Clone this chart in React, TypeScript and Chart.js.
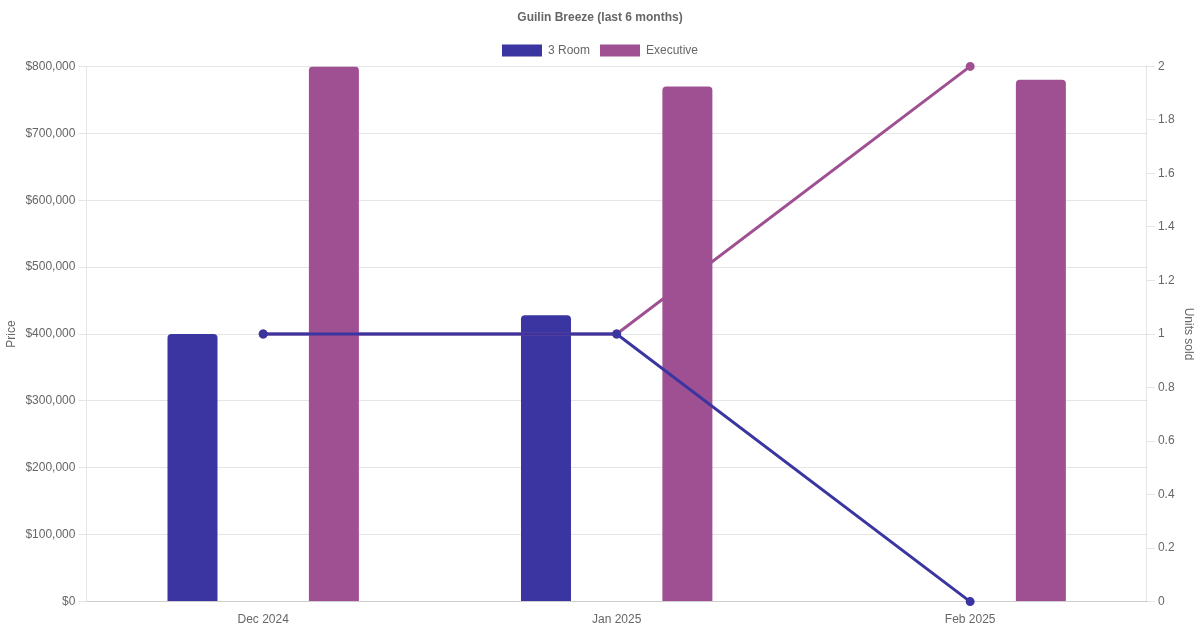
import React, { useEffect, useRef } from "react";
import { Chart, registerables } from "chart.js";

Chart.register(...registerables);

const months = ["Dec 2024", "Jan 2025", "Feb 2025"];
const priceThreeRoom = [400000, 428000, null];
const priceExecutive = [800000, 770000, 780000];
const unitsThreeRoom = [1, 1, 0];
const unitsExecutive = [1, 1, 2];

const BLUE = "#3a35a0";
const PURPLE = "#9f5092";

export default function App() {
    const ref = useRef<HTMLCanvasElement | null>(null);

    useEffect(() => {
        document.body.style.margin = "0";
        if (!ref.current) return;

        Chart.defaults.font.family = "'Liberation Sans', Arial, sans-serif";
        Chart.defaults.color = "#666";

        const chart = new Chart(ref.current, {
            type: "bar",
            data: {
                labels: months,
                datasets: [
                    {
                        type: "bar",
                        label: "3 Room",
                        data: priceThreeRoom,
                        backgroundColor: BLUE,
                        borderRadius: 4,
                        maxBarThickness: 50,
                        yAxisID: "y",
                        order: 3,
                    },
                    {
                        type: "bar",
                        label: "Executive",
                        data: priceExecutive,
                        backgroundColor: PURPLE,
                        borderRadius: 4,
                        maxBarThickness: 50,
                        yAxisID: "y",
                        order: 3,
                    },
                    {
                        type: "line",
                        label: "Executive units",
                        data: unitsExecutive,
                        borderColor: PURPLE,
                        backgroundColor: PURPLE,
                        borderWidth: 3,
                        pointRadius: 3,
                        clip: false,
                        yAxisID: "y1",
                        order: 2,
                    },
                    {
                        type: "line",
                        label: "3 Room units",
                        data: unitsThreeRoom,
                        borderColor: BLUE,
                        backgroundColor: BLUE,
                        borderWidth: 3,
                        pointRadius: 3,
                        clip: false,
                        yAxisID: "y1",
                        order: 1,
                    },
                ] as any,
            },
            options: {
                responsive: true,
                maintainAspectRatio: false,
                animation: false,
                plugins: {
                    title: {
                        display: true,
                        text: "Guilin Breeze (last 6 months)",
                        font: { size: 12, weight: "bold" },
                    },
                    legend: {
                        labels: {
                            filter: (item) => (item.datasetIndex ?? 0) < 2,
                        },
                    },
                },
                scales: {
                    x: {
                        grid: { display: false },
                    },
                    y: {
                        position: "left",
                        min: 0,
                        max: 800000,
                        ticks: {
                            stepSize: 100000,
                            callback: (v) => `$${Number(v).toLocaleString("en-US")}`,
                        },
                        title: { display: true, text: "Price" },
                    },
                    y1: {
                        position: "right",
                        min: 0,
                        max: 2,
                        ticks: {
                            stepSize: 0.2,
                            callback: (v) => String(Math.round(Number(v) * 10) / 10),
                        },
                        grid: { drawOnChartArea: false },
                        title: { display: true, text: "Units sold" },
                    },
                },
            },
        });

        return () => chart.destroy();
    }, []);

    return (
        <div style={{ width: 1200, height: 630 }}>
            <canvas ref={ref} />
        </div>
    );
}
